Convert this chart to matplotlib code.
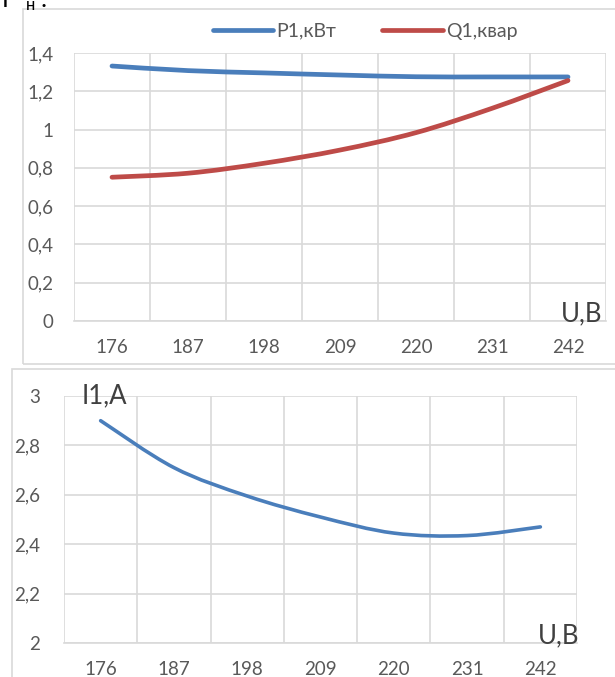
import numpy as np
import matplotlib
matplotlib.use("Agg")
import matplotlib.pyplot as plt
from matplotlib.path import Path
from matplotlib.patches import PathPatch, Rectangle
from matplotlib.lines import Line2D
from matplotlib.ticker import FuncFormatter, MultipleLocator, FixedLocator

plt.rcParams['font.family'] = ['Lato', 'Open Sans', 'DejaVu Sans']

# data
voltages = ['176', '187', '198', '209', '220', '231', '242']
p1 = [1.332, 1.308, 1.296, 1.285, 1.276, 1.275, 1.275]
q1 = [0.751, 0.772, 0.824, 0.893, 0.984, 1.111, 1.256]
i1 = [2.90, 2.71, 2.595, 2.51, 2.445, 2.435, 2.47]

BLUE = '#4a7ebb'
RED = '#be4b48'
GRID = '#d9d9d9'
TXT = '#595959'

W, H = 615, 677
fig = plt.figure(figsize=(W / 100, H / 100), dpi=100)


def box(x0, y0, x1, y1):
    # pixel box (top-left origin) -> figure fraction
    return [x0 / W, 1 - y1 / H, (x1 - x0) / W, (y1 - y0) / H]


def smooth(ax, x, y, color, lw):
    # Catmull-Rom curve through the points, drawn as cubic beziers
    x = np.asarray(x, float)
    y = np.asarray(y, float)
    xs = np.concatenate([[x[0]], x, [x[-1]]])
    ys = np.concatenate([[y[0]], y, [y[-1]]])
    verts = [(x[0], y[0])]
    codes = [Path.MOVETO]
    for i in range(1, len(x)):
        c1 = (xs[i] + (xs[i + 1] - xs[i - 1]) / 6, ys[i] + (ys[i + 1] - ys[i - 1]) / 6)
        c2 = (xs[i + 1] - (xs[i + 2] - xs[i]) / 6, ys[i + 1] - (ys[i + 2] - ys[i]) / 6)
        verts += [c1, c2, (x[i], y[i])]
        codes += [Path.CURVE4] * 3
    ax.add_patch(PathPatch(Path(verts, codes), fill=False, edgecolor=color,
                           lw=lw, capstyle='round', joinstyle='round', zorder=3))


def comma(v, pos):
    s = f'{v:.1f}'.rstrip('0').rstrip('.')
    return s.replace('.', ',')


def style(ax, ylim, step, ypad):
    n = len(voltages)
    ax.set_xlim(-0.5, n - 0.5)
    ax.set_ylim(*ylim)
    ax.set_xticks(range(n))
    ax.set_xticklabels(voltages)
    ax.xaxis.set_minor_locator(FixedLocator(np.arange(-0.5, n, 1.0)))
    ax.yaxis.set_major_locator(MultipleLocator(step))
    ax.yaxis.set_major_formatter(FuncFormatter(comma))
    ax.grid(which='minor', axis='x', color=GRID, lw=1.2)
    ax.grid(which='major', axis='y', color=GRID, lw=1.2)
    ax.tick_params(which='both', length=0, labelsize=13.5, colors=TXT)
    ax.tick_params(axis='x', pad=13)
    ax.tick_params(axis='y', pad=ypad)
    for s in ['top', 'right', 'left']:
        ax.spines[s].set_visible(False)
    ax.spines['bottom'].set_color(GRID)
    ax.spines['bottom'].set_linewidth(1.2)
    ax.set_facecolor('none')


# chart frames
fig.add_artist(Rectangle((23 / W, 1 - 364 / H), 700 / W, 355 / H, transform=fig.transFigure,
                         fill=False, edgecolor=GRID, lw=1.2))
fig.add_artist(Rectangle((12 / W, 1 - 720 / H), 700 / W, 351 / H, transform=fig.transFigure,
                         fill=False, edgecolor=GRID, lw=1.2))

# top chart
ax1 = fig.add_axes(box(74, 53, 606, 321))
style(ax1, (0, 1.4), 0.2, 15)
x = np.arange(len(voltages))
smooth(ax1, x, p1, BLUE, 3.4)
smooth(ax1, x, q1, RED, 3.4)
handles = [Line2D([], [], color=BLUE, lw=3.4, solid_capstyle='round'),
           Line2D([], [], color=RED, lw=3.4, solid_capstyle='round')]
fig.legend(handles, ['P1,кВт', 'Q1,квар'], loc='center', bbox_to_anchor=(365 / W, 1 - 31 / H),
           ncol=2, frameon=False, fontsize=14, handlelength=3.1, handletextpad=0.15,
           columnspacing=2.4, labelcolor=TXT)
fig.text(602 / W, 1 - 321 / H, 'U,В', ha='right', va='baseline', fontsize=18.5, color='#404040')

# bottom chart
ax2 = fig.add_axes(box(64, 396, 577, 643))
style(ax2, (2, 3), 0.2, 17)
smooth(ax2, x, i1, BLUE, 2.6)
fig.text(579 / W, 1 - 643 / H, 'U,В', ha='right', va='baseline', fontsize=18.5, color='#404040')
fig.text(82 / W, 1 - 403 / H, 'I1,A', ha='left', va='baseline', fontsize=18.5, color='#404040')

# heading cut off at the top of the page
fig.text(2 / W, 1 - 7 / H, 'P', ha='left', va='baseline', fontsize=18, color='black')
fig.text(26 / W, 1 - 10 / H, 'н', ha='left', va='baseline', fontsize=12, color='black')
fig.text(40 / W, 1 - 7 / H, ':', ha='left', va='baseline', fontsize=18, color='black')

fig.savefig('out.png', dpi=100)
